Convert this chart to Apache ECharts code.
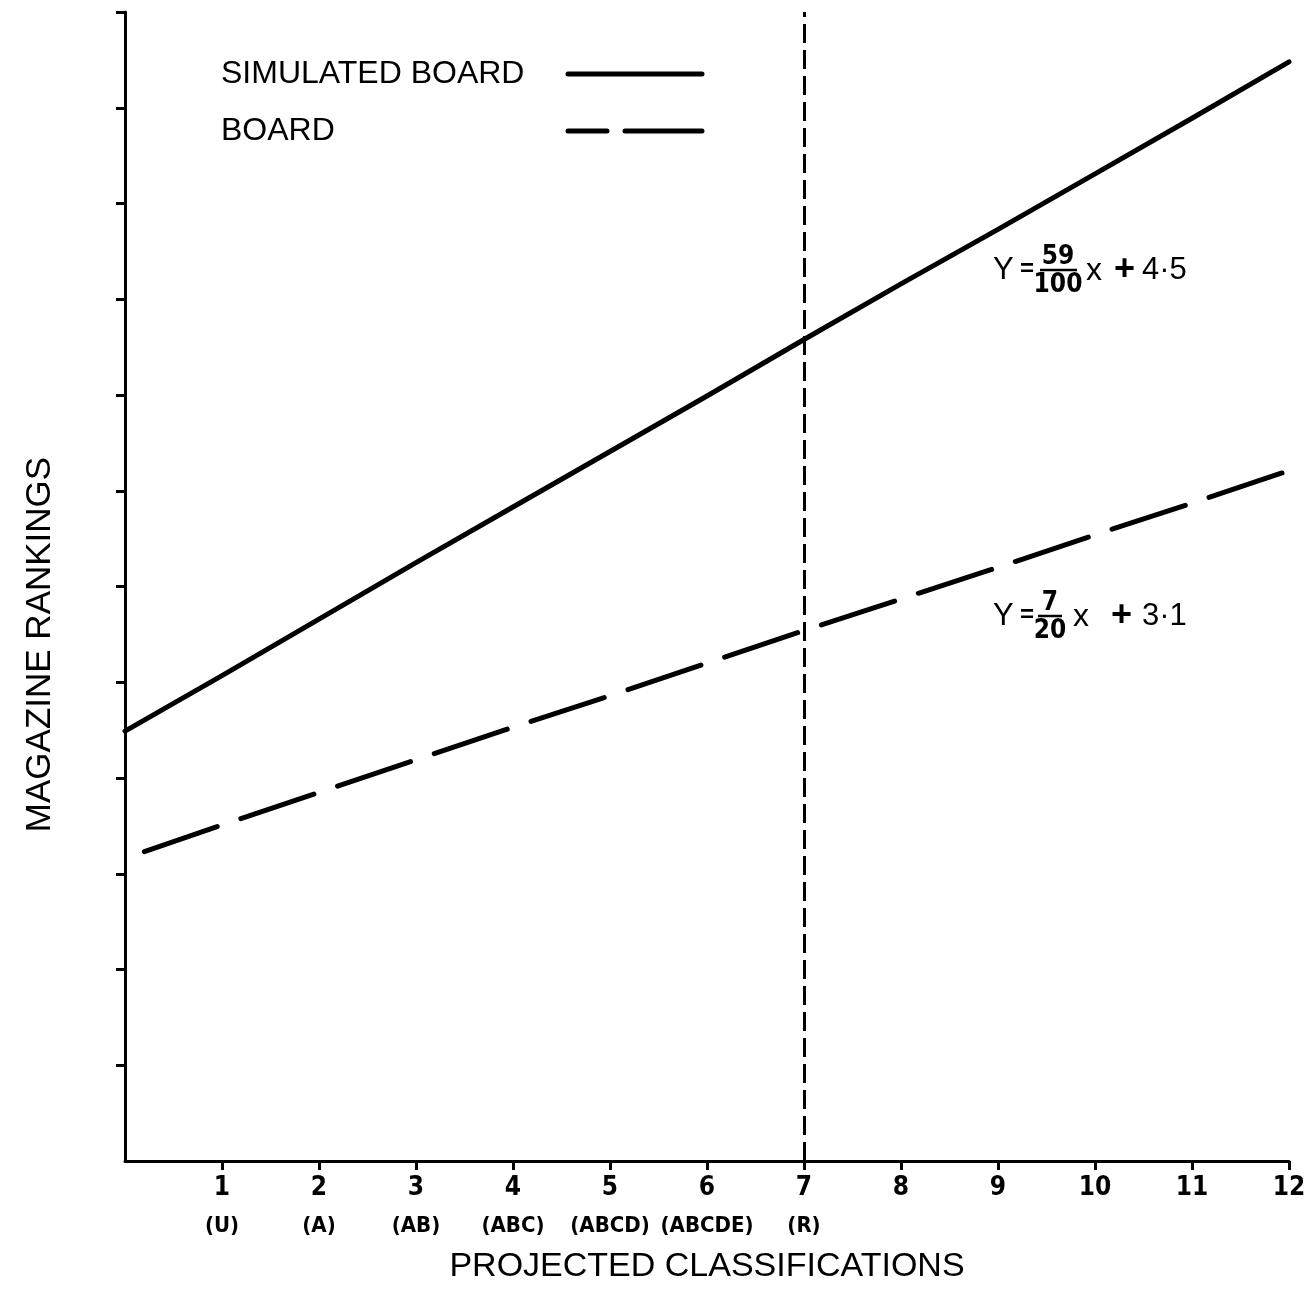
<!DOCTYPE html>
<html><head><meta charset="utf-8">
<script src="https://cdn.jsdelivr.net/npm/echarts@6/dist/echarts.min.js"></script>
<style>html,body{margin:0;padding:0;background:#fff}#c{width:1315px;height:1290px}</style>
</head><body><div id="c"></div>
<script>
// ---- data ----
const xTicks = [1, 2, 3, 4, 5, 6, 7, 8, 9, 10, 11, 12];
const classLabels = ['(U)', '(A)', '(AB)', '(ABC)', '(ABCD)', '(ABCDE)', '(R)', '', '', '', '', ''];
const yTicks = [1, 2, 3, 4, 5, 6, 7, 8, 9, 10, 11, 12];
const simX = [0, 1, 2, 3, 4, 5, 6, 7, 8, 9, 10, 11, 12];
const simY = [4.49, 5.07, 5.66, 6.25, 6.83, 7.41, 7.99, 8.58, 9.16, 9.73, 10.31, 10.89, 11.48];
const boardX = [0.2, 1, 2, 3, 4, 5, 6, 7, 8, 9, 10, 11, 12];
const boardY = [3.23, 3.51, 3.85, 4.19, 4.53, 4.86, 5.20, 5.54, 5.87, 6.20, 6.54, 6.87, 7.21];
const cutoffX = 7;
const seriesNames = ['SIMULATED BOARD', 'BOARD'];

const NARROW = "'Liberation Sans Narrow', 'DejaVu Sans Condensed', 'Arial Narrow', sans-serif";
const SANS = "'Liberation Sans', Arial, Helvetica, sans-serif";
const INK = '#000';

const chart = echarts.init(document.getElementById('c'), null, {renderer: 'canvas'});

const simData = simX.map((x, i) => [x, simY[i]]);
const boardData = boardX.map((x, i) => [x, boardY[i]]);

function eqGraphic(o) {
  const els = [];
  els.push({type: 'text', x: 993, y: o.yMid, style: {text: 'Y', font: '31px ' + SANS, fill: INK, textAlign: 'left', textVerticalAlign: 'middle'}});
  els.push({type: 'text', x: 1020, y: o.yMid - 1, style: {text: '=', font: 'bold 24px ' + SANS, fill: INK, textAlign: 'left', textVerticalAlign: 'middle'}});
  els.push({type: 'text', x: o.fracX, y: o.yMid - 13, style: {text: o.num, font: 'bold 26px ' + NARROW, fill: INK, textAlign: 'center', textVerticalAlign: 'middle'}});
  els.push({type: 'line', shape: {x1: o.barX1, y1: o.yMid, x2: o.barX2, y2: o.yMid}, style: {stroke: INK, lineWidth: 2.5}});
  els.push({type: 'text', x: o.fracX, y: o.yMid + 15, style: {text: o.den, font: 'bold 26px ' + NARROW, fill: INK, textAlign: 'center', textVerticalAlign: 'middle'}});
  els.push({type: 'text', x: o.xX, y: o.yMid + 1, style: {text: 'x', font: '32px ' + SANS, fill: INK, textAlign: 'left', textVerticalAlign: 'middle'}});
  els.push({type: 'text', x: o.plusX, y: o.yMid, style: {text: '+', font: 'bold 36px ' + SANS, fill: INK, textAlign: 'left', textVerticalAlign: 'middle'}});
  els.push({type: 'text', x: 1142, y: o.yMid, style: {text: o.constText, font: '31px ' + SANS, fill: INK, textAlign: 'left', textVerticalAlign: 'middle'}});
  return els;
}

const option = {
  backgroundColor: '#fff',
  animation: false,
  grid: {left: 125, right: 26, top: 12, bottom: 126, containLabel: false},
  legend: {
    orient: 'vertical',
    left: 221,
    top: 58,
    padding: 0,
    align: 'right',
    itemWidth: 134,
    itemHeight: 30,
    itemGap: 25,
    selectedMode: false,
    formatter: name => '{t|' + name + '}',
    textStyle: {
      rich: {t: {width: 342, align: 'left', fontSize: 32, fontFamily: SANS, color: INK, lineHeight: 30}}
    },
    itemStyle: {opacity: 0},
    data: [
      {name: seriesNames[0], lineStyle: {width: 5, type: 'solid', color: INK}},
      {name: seriesNames[1], lineStyle: {width: 5, type: [39, 18, 77, 100], color: INK}}
    ]
  },
  xAxis: {
    type: 'value', min: 0, max: 12, interval: 1,
    name: 'PROJECTED CLASSIFICATIONS', nameLocation: 'middle', nameGap: 88,
    nameTextStyle: {fontSize: 34, fontFamily: SANS, color: INK, lineHeight: 36},
    axisLine: {show: true, lineStyle: {color: INK, width: 3}},
    axisTick: {show: true, customValues: xTicks, length: 9, lineStyle: {color: INK, width: 3}},
    splitLine: {show: false},
    axisLabel: {
      customValues: xTicks, margin: 8,
      formatter: v => {
        const i = xTicks.indexOf(v);
        const sub = i >= 0 ? classLabels[i] : '';
        return sub ? '{n|' + v + '}\n{s|' + sub + '}' : '{n|' + v + '}';
      },
      rich: {
        n: {fontSize: 26, fontWeight: 'bold', fontFamily: NARROW, color: INK, lineHeight: 38},
        s: {fontSize: 22, fontWeight: 'bold', fontFamily: NARROW, color: INK, lineHeight: 38}
      }
    }
  },
  yAxis: {
    type: 'value', min: 0, max: 12, interval: 1,
    name: 'MAGAZINE RANKINGS', nameLocation: 'middle', nameGap: 67, nameRotate: 90,
    nameTextStyle: {fontSize: 35, fontFamily: SANS, color: INK, lineHeight: 36, padding: [0, 116, 0, 0]},
    axisLine: {show: true, lineStyle: {color: INK, width: 3}},
    axisTick: {show: true, customValues: yTicks, length: 9, lineStyle: {color: INK, width: 3}},
    splitLine: {show: false},
    axisLabel: {show: false}
  },
  series: [
    {
      name: seriesNames[0], type: 'line', data: simData, symbol: 'none', smooth: false,
      lineStyle: {color: INK, width: 5, cap: 'round', join: 'round'},
      itemStyle: {color: INK},
      markLine: {
        silent: true, symbol: ['none', 'none'],
        label: {show: false},
        lineStyle: {color: INK, width: 3, type: [19, 7]},
        data: [{xAxis: cutoffX}]
      },
      z: 3
    },
    {
      name: seriesNames[1], type: 'line', data: boardData, symbol: 'none', smooth: false,
      lineStyle: {color: INK, width: 5, type: [77, 25], cap: 'round', join: 'round'},
      itemStyle: {color: INK},
      z: 3
    }
  ],
  graphic: [
    {type: 'group', children: eqGraphic({yMid: 270, num: '59', den: '100', fracX: 1058, barX1: 1040, barX2: 1077, xX: 1086, plusX: 1114, constText: '4·5'})},
    {type: 'group', children: eqGraphic({yMid: 616, num: '7', den: '20', fracX: 1050, barX1: 1038, barX2: 1062, xX: 1073, plusX: 1111, constText: '3·1'})}
  ]
};
chart.setOption(option);
</script>
</body></html>
